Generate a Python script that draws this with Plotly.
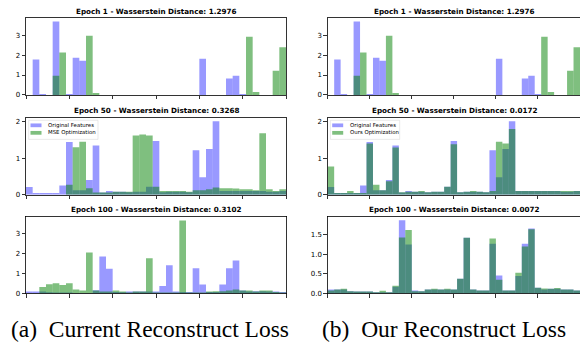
import plotly.graph_objects as go

# ---------------- data (histogram bin heights, 39 bins over [-3, 3]) ----------------
N_BINS = 39
X_MIN, X_MAX = -3.0, 3.0
x_tick_vals = [-3, -2, -1, 0, 1, 2, 3]

# Epoch 1 (same in both columns)
orig_e1 = [0, 1.78, 0.05, 0, 3.70, 0, 0.05, 1.87, 1.72,
           0, 0, 0, 0, 0, 0, 0, 0, 0, 0, 0, 0, 0, 0, 0, 0, 0,
           1.82, 0, 0, 0, 0.83, 0.97, 0.05, 0, 0, 0, 0, 0, 0]
recon_e1 = [0, 0, 0, 0, 0.97, 2.13, 0, 0, 0, 2.98, 0.10,
            0, 0, 0, 0, 0, 0, 0, 0, 0, 0, 0, 0, 0, 0, 0, 0, 0, 0, 0, 0, 0, 0,
            2.93, 0.15, 0, 0, 1.22, 2.40]

# Epoch 50
orig_e50 = [0.21, 0.05, 0.05, 0.05, 0.05, 0.25, 1.44, 0.12, 0.12, 0.40,
            1.35, 0.06, 0.10, 0.08, 0.08, 0.07, 0.08, 0.08, 0.22, 1.47,
            0.07, 0.08, 0.08, 0.08, 0.07, 1.22, 0.48, 1.25, 2.01, 0.10,
            0.10, 0.10, 0.10, 0.10, 0.10, 0.10, 0.08, 0.08, 0.10]
mse_e50 = [0, 0, 0, 0, 0, 0, 0.27, 1.30, 1.45, 0.18,
           0.06, 0.06, 0.06, 0.08, 0.08, 0.08, 1.62, 1.65, 1.62, 0.22,
           0.10, 0.10, 0.10, 0.10, 0.08, 0.12, 0.12, 0.15, 0.20, 0.18,
           0.18, 0.17, 0.15, 0.15, 0.12, 1.68, 0.15, 0.10, 0.15]
ours_e50 = [0.77, 0.05, 0.05, 0.10, 0.05, 0.05, 1.40, 0.27, 0.12, 0.37,
            1.29, 0.07, 0.08, 0.08, 0.10, 0.07, 0.08, 0.08, 0.22, 1.38,
            0.07, 0.08, 0.10, 0.08, 0.07, 0.10, 1.45, 1.40, 1.80, 0.10,
            0.10, 0.10, 0.10, 0.10, 0.10, 0.10, 0.10, 0.10, 0.10]

# Epoch 100
orig_e100 = [0.10, 0.10, 0.10, 0.06, 0.05, 0.05, 0.05, 0.03, 0.03, 0.03,
             0.17, 1.87, 1.25, 0.08, 0.06, 0.10, 0.10, 0.10, 0.10, 0.10,
             0.38, 1.42, 0.10, 0.08, 0.08, 1.27, 0.46, 0.08, 0.08, 0.45,
             1.27, 1.66, 0.15, 0.10, 0.12, 0.12, 0.10, 0.10, 0.08]
mse_e100 = [0, 0, 0.33, 0.47, 0.52, 0.43, 0.52, 0.20, 0.15, 2.07,
            0.15, 0.10, 0.10, 0.15, 0.10, 0.05, 0.10, 0.10, 1.77, 0.05,
            0.05, 0.05, 0.05, 3.68, 0.05, 0.05, 0.05, 0.10, 0.12, 0.12,
            0.15, 0.20, 0.15, 0.15, 0.10, 0.15, 0.15, 0.08, 0.05]
ours_e100 = [0.08, 0.10, 0.12, 0.06, 0.05, 0.05, 0.05, 0.03, 0.07, 0.03,
             0.20, 1.43, 1.62, 0.06, 0.06, 0.10, 0.12, 0.10, 0.12, 0.10,
             0.38, 1.42, 0.10, 0.08, 0.08, 1.40, 0.35, 0.08, 0.08, 0.53,
             1.20, 1.64, 0.15, 0.13, 0.12, 0.14, 0.10, 0.10, 0.08]

titles_left = ["Epoch 1 - Wasserstein Distance: 1.2976",
               "Epoch 50 - Wasserstein Distance: 0.3268",
               "Epoch 100 - Wasserstein Distance: 0.3102"]
titles_right = ["Epoch 1 - Wasserstein Distance: 1.2976",
                "Epoch 50 - Wasserstein Distance: 0.0172",
                "Epoch 100 - Wasserstein Distance: 0.0072"]
legend_orig = "Original Features"
legend_mse = "MSE Optimization"
legend_ours = "Ours Optimization"
captions = ["(a)\u00a0\u00a0Current Reconstruct Loss", "(b)\u00a0\u00a0Our Reconstruct Loss"]

# ---------------- layout helpers ----------------
W, H = 580, 344
col_px = [(26.0, 286.0), (327.7, 580.0)]
row_px = [(18.0, 96.0), (119.0, 197.0), (219.0, 297.0)]

BLUE = "rgba(0,0,255,0.4)"
GREEN = "rgba(0,128,0,0.5)"
FONT = "DejaVu Sans"

bin_w = (X_MAX - X_MIN) / N_BINS
centers = [X_MIN + (k + 0.5) * bin_w for k in range(N_BINS)]

def px_x(p):
    return p / W

def px_y(p):
    return 1 - p / H

panels = [
    (0, 0, titles_left[0], orig_e1, recon_e1, 3.885, [0, 1, 2, 3], ["0", "1", "2", "3"], None),
    (0, 1, titles_right[0], orig_e1, recon_e1, 3.885, [0, 1, 2, 3], ["0", "1", "2", "3"], None),
    (1, 0, titles_left[1], orig_e50, mse_e50, 2.11, [0, 1, 2], ["0", "1", "2"], legend_mse),
    (1, 1, titles_right[1], orig_e50, ours_e50, 2.11, [0, 1, 2], ["0", "1", "2"], legend_ours),
    (2, 0, titles_left[2], orig_e100, mse_e100, 3.88, [0, 1, 2, 3], ["0", "1", "2", "3"], None),
    (2, 1, titles_right[2], orig_e100, ours_e100, 1.965, [0, 0.5, 1.0, 1.5], ["0.0", "0.5", "1.0", "1.5"], None),
]

fig = go.Figure()
layout = dict(
    width=W, height=H,
    margin=dict(l=0, r=0, t=0, b=0),
    paper_bgcolor="white", plot_bgcolor="white",
    barmode="overlay", showlegend=False,
    font=dict(family=FONT, color="black"),
)
annotations = []
shapes = []

for idx, (r, c, title, blue, green, ymax, ytv, ytt, leg) in enumerate(panels, start=1):
    xa = "x" if idx == 1 else f"x{idx}"
    ya = "y" if idx == 1 else f"y{idx}"
    x0p, x1p = col_px[c]
    y0p, y1p = row_px[r]
    fig.add_trace(go.Bar(x=centers, y=blue, width=bin_w, xaxis=xa, yaxis=ya,
                         marker=dict(color=BLUE, line=dict(width=0)), name=legend_orig,
                         hoverinfo="skip"))
    fig.add_trace(go.Bar(x=centers, y=green, width=bin_w, xaxis=xa, yaxis=ya,
                         marker=dict(color=GREEN, line=dict(width=0)), name=leg or "recon",
                         hoverinfo="skip"))
    xkey = "xaxis" if idx == 1 else f"xaxis{idx}"
    ykey = "yaxis" if idx == 1 else f"yaxis{idx}"
    layout[xkey] = dict(domain=[px_x(x0p), min(1.0, px_x(x1p))], range=[X_MIN, X_MAX],
                        tickvals=x_tick_vals, showticklabels=False, ticks="outside",
                        ticklen=3.5, tickwidth=0.8, tickcolor="black",
                        showline=True, linecolor="black", linewidth=0.8, mirror=True,
                        showgrid=False, zeroline=False, anchor=ya, fixedrange=True)
    layout[ykey] = dict(domain=[px_y(y1p), px_y(y0p)], range=[0, ymax],
                        tickvals=ytv, ticktext=ytt, ticks="outside",
                        ticklen=3.5, tickwidth=0.8, tickcolor="black",
                        tickfont=dict(family=FONT, size=7, color="black"),
                        showline=True, linecolor="black", linewidth=0.8,
                        mirror=(c == 0), showgrid=False, zeroline=False,
                        anchor=xa, fixedrange=True)
    cx = (x0p + (x0p + 253.0 if c == 1 else x1p)) / 2
    annotations.append(dict(text=f"<b>{title}</b>", x=px_x(cx),
                            y=px_y(y0p - 6.8), xref="paper", yref="paper",
                            xanchor="center", yanchor="middle", showarrow=False,
                            font=dict(family=FONT, size=7.2, color="black")))
    if leg is not None:
        fx0, fx1 = x0p + 2.7, x0p + 72.0
        fy0, fy1 = y0p + 2.7, y0p + 22.0
        shapes.append(dict(type="rect", xref="paper", yref="paper",
                           x0=px_x(fx0), x1=px_x(fx1), y0=px_y(fy1), y1=px_y(fy0),
                           line=dict(color="rgba(204,204,204,0.6)", width=0.7),
                           fillcolor="rgba(255,255,255,0.8)", layer="above"))
        for j, (lab, col) in enumerate([(legend_orig, BLUE), (leg, GREEN)]):
            cy = y0p + 7.8 + j * 7.6
            shapes.append(dict(type="rect", xref="paper", yref="paper",
                               x0=px_x(x0p + 4.5), x1=px_x(x0p + 15.5),
                               y0=px_y(cy + 1.9), y1=px_y(cy - 1.9),
                               line=dict(width=0), fillcolor=col, layer="above"))
            annotations.append(dict(text=lab, x=px_x(x0p + 20.0), y=px_y(cy),
                                    xref="paper", yref="paper", xanchor="left",
                                    yanchor="middle", showarrow=False,
                                    font=dict(family=FONT, size=5.4, color="black")))

annotations.append(dict(text=captions[0], x=px_x(149.5), y=px_y(332.5), xref="paper", yref="paper",
                        xanchor="center", yanchor="middle", showarrow=False,
                        font=dict(family="Liberation Serif", size=23.5, color="black")))
annotations.append(dict(text=captions[1], x=px_x(444.0), y=px_y(332.5), xref="paper", yref="paper",
                        xanchor="center", yanchor="middle", showarrow=False,
                        font=dict(family="Liberation Serif", size=23.5, color="black")))

layout["annotations"] = annotations
layout["shapes"] = shapes
fig.update_layout(**layout)
fig.write_html("out.html", config={"displayModeBar": False, "staticPlot": True},
               post_script="document.body.style.margin='0';document.body.style.overflow='hidden';")
